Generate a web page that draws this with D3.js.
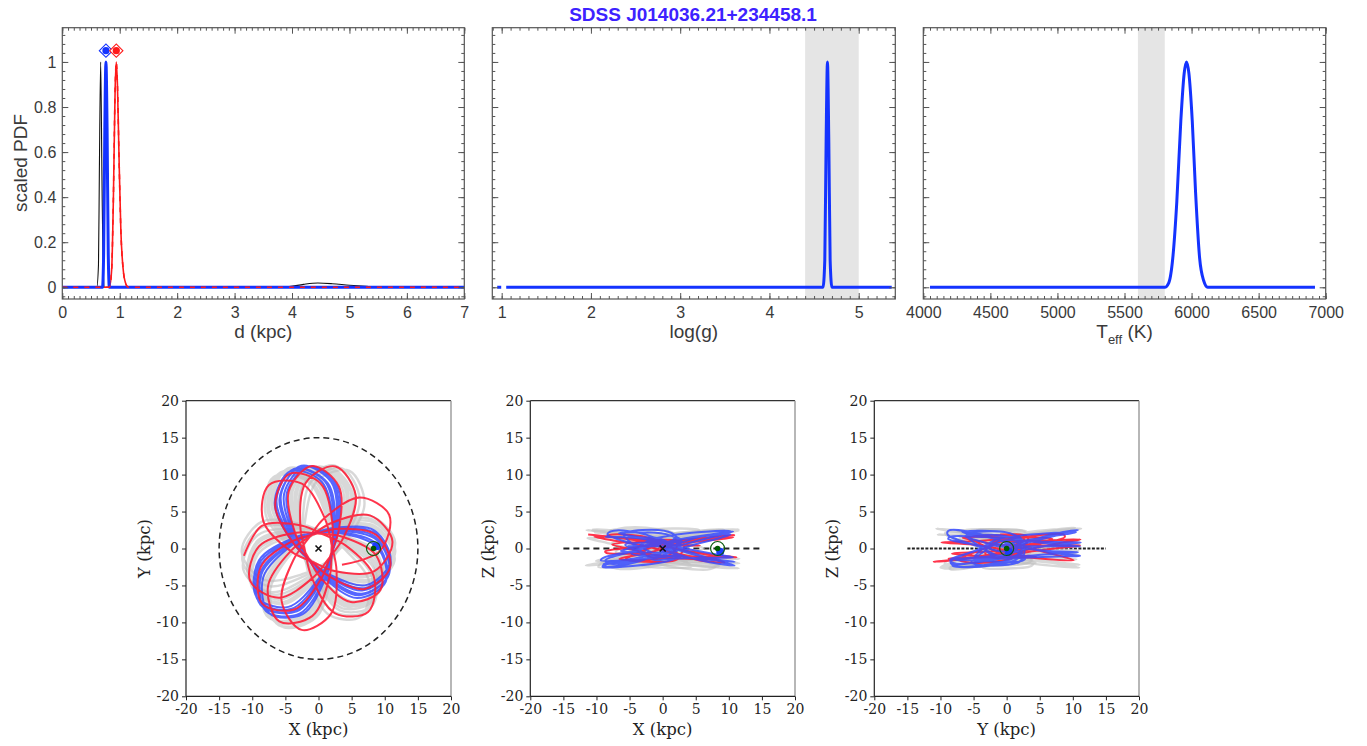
<!DOCTYPE html>
<html><head><meta charset="utf-8">
<script src="https://cdnjs.cloudflare.com/ajax/libs/d3/7.8.5/d3.min.js"></script>
<style>body{margin:0;background:#fff;} svg{display:block;}</style>
</head><body><svg id="c" width="1367" height="746"></svg>
<script>
// ---------------- DATA ----------------
const title = "SDSS J014036.21+234458.1";
// distance PDFs (kpc, scaled PDF)
const dKpcBlack = [0, 0.6, 0.63, 0.645, 0.668, 0.69, 0.71, 0.735, 3.6, 3.95, 4.2, 4.45, 4.7, 5.0, 5.3, 5.6, 7];
const pdfBlack  = [0, 0, 0.1, 0.5, 1.0, 0.5, 0.1, 0, 0, 0.003, 0.013, 0.019, 0.016, 0.009, 0.004, 0.001, 0];
const dKpcBlue  = [0, 0.7, 0.72, 0.74, 0.76, 0.78, 0.8, 0.82, 7];
const pdfBlue   = [0, 0, 0.15, 0.7, 1, 0.7, 0.15, 0, 0];
const dKpcRed   = [0, 0.82, 0.86, 0.89, 0.92, 0.94, 0.96, 0.99, 1.02, 1.06, 1.1, 1.15, 7];
const pdfRed    = [0, 0, 0.08, 0.4, 0.88, 1, 0.9, 0.55, 0.25, 0.08, 0.02, 0, 0];
const dBest     = [0.76, 0.94];      // blue, red markers
const markerLevel = 1.05;
// log(g) PDF
const loggX   = [0.95, 4.6, 4.62, 4.635, 4.65, 4.665, 4.68, 4.7, 5.37];
const loggPdf = [0, 0, 0.12, 0.65, 1, 0.65, 0.12, 0, 0];
const loggBand = [4.4, 5.0];
// Teff PDF
const teffX   = [4050, 5800, 5830, 5860, 5890, 5920, 5945, 5962, 5980, 6005, 6030, 6060, 6090, 6120, 6920];
const teffPdf = [0, 0, 0.02, 0.13, 0.38, 0.74, 0.95, 1, 0.95, 0.74, 0.42, 0.13, 0.03, 0, 0];
const teffBand = [5600, 5800];
// tick values
const dTicks = [0,1,2,3,4,5,6,7];
const loggTicks = [1,2,3,4,5];
const teffTicks = [4000,4500,5000,5500,6000,6500,7000];
const pdfTicks = [0,0.2,0.4,0.6,0.8,1];
const kpcTicks = [-20,-15,-10,-5,0,5,10,15,20];

// orbit petals: turning points of one petal relative to its apocentre
const lobeAz = [-120, -55, -25, 0, 25, 55];          // azimuth offset (deg): pericentre, node, flank, apo, flank, node
const lobeZw = [0, 0.4, 0.85, 1, 0.85, 0.4];          // share of apocentre height
// blue orbit
const blueApoAz = [112, 351, 230, 109, 348, 227, 106, 345, 224, 103, 342, 221, 100, 339, 218, 97, 336, 215];
const blueApoR  = [11.3, 11.0, 11.5, 11.4, 11.1, 11.6, 11.2, 11.0, 11.4, 11.5, 11.2, 11.6, 11.3, 11.0, 11.5, 11.2, 11.1, 11.4];
const blueApoZ  = [2.2, -1.8, 2.4, -0.5, -2.3, 1.6, 2.5, -1.2, -2.0, 0.8, 2.3, -2.4, 0.3, 1.9, -2.5, -1.0, 2.4, -1.6];
const bluePeriZ = [0.5, 1.2, -0.8, -1.3, 0.6, 1.4, -0.4, -1.5, 0.9, 1.1, -1.2, -0.6, 1.5, 0.3, -1.0, -1.4, 1.2, 0.7, -0.9];
const blueRFrac = [0.19, 0.36, 0.8, 1, 0.8, 0.36];
// red orbit
const redApoAz = [23, 257, 131, 5, 239, 113, 347, 221, 95, 329, 203, 77, 311, 185];
const redApoR  = [11.6, 11.3, 11.4, 11.2, 11.5, 11.0, 11.1, 11.3, 11.2, 10.9, 11.2, 11.4, 11.4, 11.3];
const redApoZ  = [1.5, -1.8, 1.9, -1.2, 0.8, -1.6, 1.8, -0.6, 1.2, -1.9, 1.6, 0.4, -1.4, 1.9];
const redPeriZ = [0.3, 0.2, -0.5, 0.6, -0.9, 1.2, -0.4, 0.7, -1.3, 0.9, -0.3, 0.5, -1.1, 0.2, 0];
const redRFrac = [0.18, 0.36, 0.8, 1, 0.8, 0.36];
// grey Monte-Carlo orbits
const gray1ApoAz = [125, 4, 243, 122, 1, 240, 119, 358, 237, 116, 355, 234, 113, 352, 231];
const gray1ApoR  = [11.8, 11.6, 11.9, 11.7, 11.5, 12.0, 11.8, 11.6, 11.9, 11.7, 11.5, 11.9, 11.8, 11.6, 12.0];
const gray1ApoZ  = [2.6, -2.0, 2.7, 1.1, -2.7, 1.9, 2.8, -1.4, -2.6, -0.8, 2.6, -2.7, 1.1, 2.4, -2.2];
const gray1PeriZ = [0.5, 1.0, -1.5, 1.2, -1.6, 0.6, 1.5, -0.4, -1.8, 0.2, 1.7, 0.1, -1.2, 0.8, -0.5, 1.0];
const gray1RFrac = [0.17, 0.34, 0.78, 1, 0.78, 0.34];
const gray2ApoAz = [92, 331, 210, 89, 328, 207, 86, 325, 204, 83, 322, 201, 80, 319, 198];
const gray2ApoR  = [11.0, 10.8, 11.2, 11.1, 10.9, 11.3, 11.0, 10.8, 11.2, 11.1, 10.7, 11.3, 11.0, 10.8, 11.2];
const gray2ApoZ  = [-2.2, 1.8, -2.5, 0.6, 2.5, -1.7, -2.6, 1.3, 2.2, -0.9, -2.4, 2.6, 0.3, -1.6, 2.4];
const gray2PeriZ = [-0.4, -1.0, 1.3, -1.0, 1.5, -0.5, -1.4, 0.1, 1.6, -0.2, -1.6, 0.3, 1.1, -0.7, 0.4, -0.9];
const gray2RFrac = [0.23, 0.38, 0.82, 1, 0.82, 0.38];
const gray3ApoAz = [78, 316, 194, 72, 310, 188, 66, 304, 182];
const gray3ApoR  = [11.5, 11.2, 11.7, 11.4, 11.1, 11.6, 11.5, 11.2, 11.6];
const gray3ApoZ  = [2.7, -2.2, 1.4, -0.3, -2.8, 2.5, -1.5, 2.1, -2.3];
const gray3PeriZ = [1.0, 0.2, -1.7, 1.6, -1.4, 0.8, 0.4, -0.8, 1.4, -1.1];
const gray3RFrac = [0.19, 0.35, 0.8, 1, 0.8, 0.35];
const sunPos = [8.3, 0, 0];        // X, Y, Z (kpc)
const starPos = [8.7, 0.3, -0.45]; // X, Y, Z (kpc)
const galCenter = [0, 0, 0];
const diskRadius = 15;

// ---------------- DRAWING ----------------
const svg = d3.select('#c');
const SANS = '"Liberation Sans", Arial, Helvetica, sans-serif';
const SERIF = '"DejaVu Serif", serif';
const frameCol = '#555';
const txtCol = '#3a3a3a';

svg.append('text').attr('x', 693).attr('y', 21).attr('text-anchor','middle')
  .attr('font-family', SANS).attr('font-weight','bold').attr('font-size', 19)
  .attr('fill', '#3d22ff').text(title);

const pdfDomain = [-0.052, 1.152];
let clipId = 0;
function addClip(x0, y0, w, h) {
  const id = 'clip' + (clipId++);
  svg.append('clipPath').attr('id', id).append('rect').attr('x', x0).attr('y', y0).attr('width', w).attr('height', h);
  return 'url(#' + id + ')';
}
function range(a, b, s) { const r = []; for (let v = a; v <= b + 1e-9; v += s) r.push(+v.toFixed(6)); return r; }

function pdfPanel(o) {
  const x = d3.scaleLinear().domain(o.xDomain).range([o.left, o.right]);
  const y = d3.scaleLinear().domain(pdfDomain).range([o.bottom, o.top]);
  const g = svg.append('g');
  if (o.band) g.append('rect').attr('x', x(o.band[0])).attr('y', o.top)
    .attr('width', x(o.band[1]) - x(o.band[0])).attr('height', o.bottom - o.top).attr('fill', '#e5e5e5');
  const cg = g.append('g').attr('clip-path', addClip(o.left, o.top, o.right - o.left, o.bottom - o.top));
  o.series.forEach(s => {
    const pts = s.x.map((v, i) => [v, s.y[i]]);
    cg.append('path').datum(pts)
      .attr('d', d3.line().x(d => x(d[0])).y(d => y(d[1])).curve(d3.curveMonotoneX))
      .attr('fill', 'none').attr('stroke', s.color).attr('stroke-width', s.w)
      .attr('stroke-dasharray', s.dash || null).attr('stroke-linejoin', 'round');
  });
  if (o.after) o.after(g, x, y);
  const minor = (axis, pos, vals, len) => {
    const a = axis.tickValues(vals).tickSizeInner(len).tickSizeOuter(0).tickFormat('');
    const ag = g.append('g').attr('transform', pos).call(a);
    ag.select('.domain').remove();
    ag.selectAll('line').attr('stroke', frameCol);
  };
  const yMinor = range(-0.04, 1.12, 0.04);
  minor(d3.axisBottom(x), `translate(0,${o.bottom})`, o.xMinor, -3);
  minor(d3.axisTop(x), `translate(0,${o.top})`, o.xMinor, -3);
  minor(d3.axisLeft(y), `translate(${o.left},0)`, yMinor, -3);
  minor(d3.axisRight(y), `translate(${o.right},0)`, yMinor, -3);
  minor(d3.axisTop(x), `translate(0,${o.top})`, o.xMajor, -6);
  minor(d3.axisRight(y), `translate(${o.right},0)`, pdfTicks, -6);
  const bx = g.append('g').attr('transform', `translate(0,${o.bottom})`)
    .call(d3.axisBottom(x).tickValues(o.xMajor).tickSizeInner(-6).tickSizeOuter(0).tickPadding(8).tickFormat(d => String(d)));
  bx.select('.domain').remove();
  bx.selectAll('line').attr('stroke', frameCol);
  bx.selectAll('text').attr('font-family', SANS).attr('font-size', 16).attr('fill', txtCol);
  const ly = g.append('g').attr('transform', `translate(${o.left},0)`)
    .call(d3.axisLeft(y).tickValues(pdfTicks).tickSizeInner(-6).tickSizeOuter(0).tickPadding(6).tickFormat(d => String(+d.toFixed(2))));
  ly.select('.domain').remove();
  ly.selectAll('line').attr('stroke', frameCol);
  if (o.yLabels) ly.selectAll('text').attr('font-family', SANS).attr('font-size', 16).attr('fill', txtCol);
  else ly.selectAll('text').remove();
  g.append('rect').attr('x', o.left).attr('y', o.top).attr('width', o.right - o.left).attr('height', o.bottom - o.top)
    .attr('fill', 'none').attr('stroke', frameCol).attr('stroke-width', 1.2);
  const xl = g.append('text').attr('x', (o.left + o.right) / 2).attr('y', 338).attr('text-anchor', 'middle')
    .attr('font-family', SANS).attr('font-size', 19).attr('fill', txtCol);
  o.xLabel(xl);
  return { x, y };
}

pdfPanel({
  left: 62.3, right: 464.3, top: 27.7, bottom: 299,
  xDomain: [0, 7], xMajor: dTicks, xMinor: range(0, 7, 0.1), yLabels: true,
  series: [
    { x: dKpcBlack, y: pdfBlack, color: '#111', w: 1.1 },
    { x: dKpcRed, y: pdfRed, color: '#ff1a1a', w: 1.6 },
    { x: dKpcBlue, y: pdfBlue, color: '#1433ff', w: 3 },
    { x: dKpcRed, y: pdfRed, color: '#ff1a1a', w: 1.6, dash: '5,6' }
  ],
  xLabel: t => t.text('d (kpc)'),
  after: (g, x, y) => {
    const cols = ['#1433ff', '#ff1a1a'];
    dBest.forEach((d, i) => {
      g.append('path').attr('d', d3.symbol(d3.symbolSquare, 88)())
        .attr('transform', `translate(${x(d)},${y(markerLevel)}) rotate(45)`)
        .attr('fill', 'white').attr('stroke', cols[i]).attr('stroke-width', 1.1);
      g.append('circle').attr('cx', x(d)).attr('cy', y(markerLevel)).attr('r', 3.6).attr('fill', cols[i]);
    });
  }
});
svg.append('text').attr('transform', 'translate(27,163) rotate(-90)').attr('text-anchor', 'middle')
  .attr('font-family', SANS).attr('font-size', 19).attr('fill', txtCol).text('scaled PDF');

pdfPanel({
  left: 492.3, right: 895.3, top: 27.7, bottom: 299,
  xDomain: [0.895, 5.41], xMajor: loggTicks, xMinor: range(0.9, 5.4, 0.1), band: loggBand,
  series: [{ x: loggX, y: loggPdf, color: '#1433ff', w: 3, dash: '4,5,3000' }],
  xLabel: t => t.text('log(g)')
});
pdfPanel({
  left: 923.3, right: 1325.7, top: 27.7, bottom: 299,
  xDomain: [4000, 7000], xMajor: teffTicks, xMinor: range(4000, 7000, 50), band: teffBand,
  series: [{ x: teffX, y: teffPdf, color: '#1433ff', w: 3 }],
  xLabel: t => { t.append('tspan').text('T'); t.append('tspan').attr('font-size', 13).attr('dy', 6).text('eff');
                 t.append('tspan').attr('dy', -6).text(' (K)'); }
});

// ---------------- ORBIT PANELS ----------------
function buildOrbit(o) {
  const out = [];
  const n = o.az.length;
  const push = (azDeg, r, z) => {
    const a = azDeg * Math.PI / 180;
    out.push([r * Math.cos(a), r * Math.sin(a), z]);
  };
  o.az.forEach((az, i) => {
    const R = o.R[i];
    for (let k = 0; k < 6; k++) {
      if (i === 0 && k < (o.startIdx || 0)) continue;
      if (i === n - 1 && o.endIdx !== undefined && k > o.endIdx) break;
      const zBase = k <= 3 ? o.periZ[i] : o.periZ[i + 1];
      push(az + lobeAz[k], R * o.rFrac[k], zBase + lobeZw[k] * (o.apoZ[i] - zBase));
    }
  });
  if (o.endIdx === undefined) push(o.az[n - 1] + 120, o.R[n - 1] * o.rFrac[0], o.periZ[n]);
  return out;
}
const grayCol = 'rgba(190,190,190,0.6)';
const grayOrbits = [
  { pts: buildOrbit({ az: gray1ApoAz, R: gray1ApoR, apoZ: gray1ApoZ, periZ: gray1PeriZ, rFrac: gray1RFrac }), color: grayCol, w: 2.4 },
  { pts: buildOrbit({ az: gray2ApoAz, R: gray2ApoR, apoZ: gray2ApoZ, periZ: gray2PeriZ, rFrac: gray2RFrac }), color: grayCol, w: 2.4 },
  { pts: buildOrbit({ az: gray3ApoAz, R: gray3ApoR, apoZ: gray3ApoZ, periZ: gray3PeriZ, rFrac: gray3RFrac }), color: grayCol, w: 2.4 }
];
const blueOrbit = { pts: buildOrbit({ az: blueApoAz, R: blueApoR, apoZ: blueApoZ, periZ: bluePeriZ, rFrac: blueRFrac }), color: 'rgba(55,75,255,0.85)', w: 2 };
const redOrbit = { pts: buildOrbit({ az: redApoAz, R: redApoR, apoZ: redApoZ, periZ: redPeriZ, rFrac: redRFrac, startIdx: 1, endIdx: 3 }), color: 'rgba(255,30,55,0.9)', w: 2 };
const fmtK = d => d < 0 ? '-' + Math.abs(d) : String(d);

function orbitPanel(o) {
  const sx = d3.scaleLinear().domain([-20, 20]).range([o.left, o.right]);
  const sy = d3.scaleLinear().domain([-20, 20]).range([o.bottom, o.top]);
  const g = svg.append('g');
  const cg = g.append('g').attr('clip-path', addClip(o.left, o.top, o.right - o.left, o.bottom - o.top));
  if (o.circle) {
    cg.append('ellipse').attr('cx', sx(0)).attr('cy', sy(0))
      .attr('rx', sx(diskRadius) - sx(0)).attr('ry', sy(0) - sy(diskRadius))
      .attr('fill', 'none').attr('stroke', '#222').attr('stroke-width', 1.5).attr('stroke-dasharray', '6,4');
  } else {
    cg.append('line').attr('x1', sx(-diskRadius)).attr('x2', sx(diskRadius)).attr('y1', sy(0)).attr('y2', sy(0))
      .attr('stroke', '#222').attr('stroke-width', 2).attr('stroke-dasharray', o.lineDash);
  }
  const line = d3.line().x(d => sx(d[0])).y(d => sy(d[1])).curve(d3.curveCatmullRom.alpha(0.5));
  const order = o.blueOnTop ? [...grayOrbits, redOrbit, blueOrbit] : [...grayOrbits, blueOrbit, redOrbit];
  order.forEach(ob => {
    const pts = ob.pts.map(p => [p[o.a], p[o.b]]);
    cg.append('path').datum(pts).attr('d', line).attr('fill', 'none')
      .attr('stroke', ob.color).attr('stroke-width', ob.w).attr('stroke-linejoin', 'round');
  });
  if (o.cross) {
    const cx = sx(galCenter[o.a]), cy = sy(galCenter[o.b]);
    cg.append('path').attr('d', `M${cx-3},${cy-3}L${cx+3},${cy+3}M${cx-3},${cy+3}L${cx+3},${cy-3}`)
      .attr('stroke', '#111').attr('stroke-width', 1.6);
  }
  cg.append('circle').attr('cx', sx(starPos[o.a])).attr('cy', sy(starPos[o.b])).attr('r', 4).attr('fill', '#1a3cff');
  cg.append('circle').attr('cx', sx(sunPos[o.a])).attr('cy', sy(sunPos[o.b])).attr('r', 2.8).attr('fill', '#005a00');
  cg.append('circle').attr('cx', sx(sunPos[o.a])).attr('cy', sy(sunPos[o.b])).attr('r', 7)
    .attr('fill', 'none').attr('stroke', '#0d5a0d').attr('stroke-width', 1.2);
  const ax = g.append('g').attr('transform', `translate(0,${o.bottom})`)
    .call(d3.axisBottom(sx).tickValues(kpcTicks).tickSize(4).tickPadding(4).tickFormat(fmtK));
  const ay = g.append('g').attr('transform', `translate(${o.left},0)`)
    .call(d3.axisLeft(sy).tickValues(kpcTicks).tickSize(4).tickPadding(3).tickFormat(fmtK));
  [ax, ay].forEach(a => {
    a.select('.domain').remove();
    a.selectAll('line').attr('stroke', '#222');
    a.selectAll('text').attr('font-family', SERIF).attr('font-size', 14).attr('fill', '#222');
  });
  g.append('line').attr('x1', o.left).attr('x2', o.right).attr('y1', o.top).attr('y2', o.top).attr('stroke', '#333').attr('stroke-width', 1.2);
  g.append('line').attr('x1', o.right).attr('x2', o.right).attr('y1', o.top).attr('y2', o.bottom).attr('stroke', '#999').attr('stroke-width', 1.4);
  g.append('line').attr('x1', o.left).attr('x2', o.right).attr('y1', o.bottom).attr('y2', o.bottom).attr('stroke', '#222').attr('stroke-width', 1.2);
  g.append('line').attr('x1', o.left).attr('x2', o.left).attr('y1', o.top).attr('y2', o.bottom).attr('stroke', '#222').attr('stroke-width', 1.2);
  g.append('text').attr('x', (o.left + o.right) / 2).attr('y', 735).attr('text-anchor', 'middle')
    .attr('font-family', SERIF).attr('font-size', 16.5).attr('fill', '#222').text(o.xLabel);
  g.append('text').attr('transform', `translate(${o.left - 36},${(o.top + o.bottom) / 2}) rotate(-90)`)
    .attr('text-anchor', 'middle').attr('font-family', SERIF).attr('font-size', 16.5).attr('fill', '#222').text(o.yLabel);
}
orbitPanel({ left: 186, right: 451, top: 400.7, bottom: 696.3, a: 0, b: 1, circle: true, cross: true, xLabel: 'X (kpc)', yLabel: 'Y (kpc)' });
orbitPanel({ left: 530.3, right: 795, top: 400.7, bottom: 696.3, a: 0, b: 2, cross: true, blueOnTop: true, lineDash: '6,4', xLabel: 'X (kpc)', yLabel: 'Z (kpc)' });
orbitPanel({ left: 874.3, right: 1139, top: 400.7, bottom: 696.3, a: 1, b: 2, blueOnTop: true, lineDash: '3,1.5', xLabel: 'Y (kpc)', yLabel: 'Z (kpc)' });
</script></body></html>
